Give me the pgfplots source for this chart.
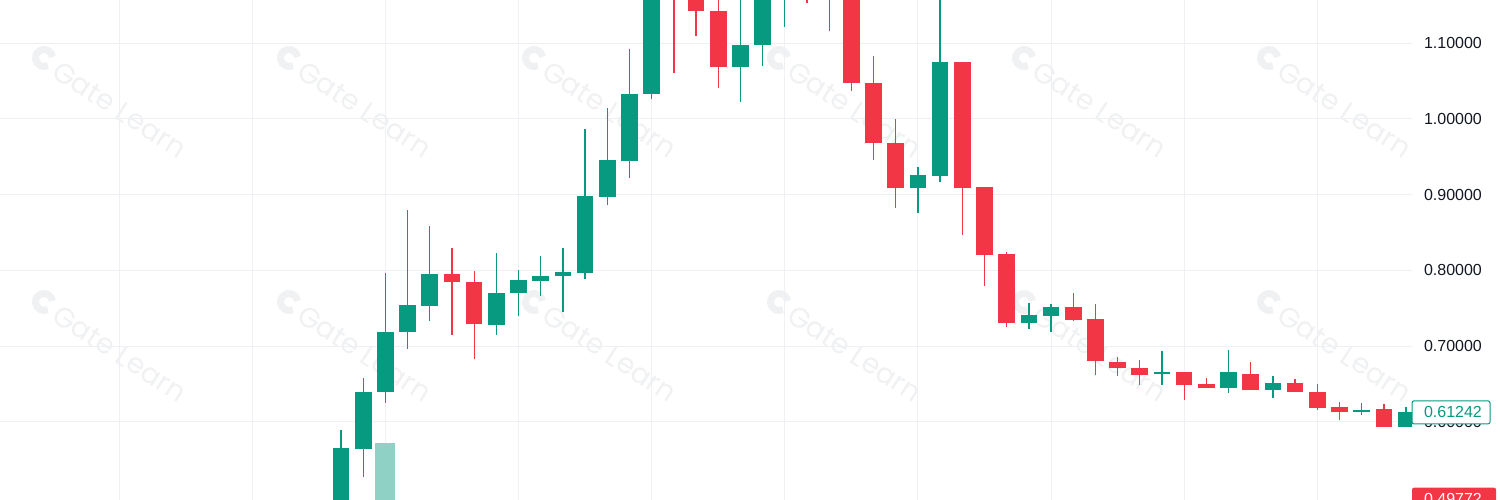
\documentclass[border=0pt]{standalone}
\usepackage{pgfplots}
\pgfplotsset{compat=1.18}
\usepackage{pgfplotstable}
\usepackage{fontspec}
\setmainfont{Liberation Sans}
\newfontfamily\wmfont{Poppins}
\definecolor{upc}{HTML}{089981}
\definecolor{dnc}{HTML}{F23645}
\definecolor{gridc}{HTML}{EEF0F3}
\definecolor{txt}{HTML}{131722}
\definecolor{wm}{HTML}{F0F1F3}

% rising candles
\pgfplotstableread{
i  open   high   low    close
1  0.470  0.589  0.440  0.566
2  0.564  0.658  0.527  0.639
3  0.639  0.797  0.625  0.719
4  0.719  0.880  0.696  0.754
5  0.753  0.859  0.733  0.795
8  0.728  0.823  0.715  0.770
9  0.770  0.801  0.740  0.787
10 0.786  0.819  0.766  0.793
11 0.793  0.829  0.745  0.798
12 0.797  0.987  0.789  0.898
13 0.897  1.015  0.886  0.946
14 0.945  1.092  0.922  1.033
15 1.033  1.230  1.026  1.190
19 1.069  1.170  1.022  1.098
20 1.098  1.200  1.070  1.170
21 1.170  1.220  1.122  1.190
23 1.180  1.240  1.116  1.210
27 0.909  0.937  0.876  0.926
28 0.925  1.170  0.917  1.075
32 0.730  0.757  0.722  0.741
33 0.740  0.756  0.718  0.751
38 0.663  0.694  0.649  0.666
41 0.645  0.695  0.638  0.666
43 0.642  0.660  0.632  0.651
47 0.613  0.625  0.609  0.616
49 0.593  0.620  0.593  0.61242
}\upcandles

% falling candles
\pgfplotstableread{
i  open   high   low    close
6  0.795  0.829  0.715  0.785
7  0.785  0.799  0.683  0.729
16 1.220  1.250  1.061  1.170
17 1.190  1.210  1.110  1.143
18 1.143  1.170  1.041  1.069
22 1.210  1.230  1.153  1.180
24 1.210  1.230  1.037  1.047
25 1.048  1.083  0.946  0.968
26 0.968  1.000  0.883  0.909
29 1.075  1.075  0.847  0.909
30 0.910  0.910  0.779  0.820
31 0.821  0.824  0.725  0.730
34 0.751  0.770  0.733  0.735
35 0.736  0.756  0.662  0.680
36 0.679  0.685  0.660  0.671
37 0.671  0.682  0.649  0.662
39 0.666  0.666  0.629  0.649
40 0.650  0.658  0.645  0.645
42 0.663  0.679  0.642  0.642
44 0.651  0.656  0.639  0.639
45 0.639  0.650  0.616  0.618
46 0.620  0.626  0.602  0.613
48 0.617  0.623  0.593  0.593
}\downcandles

\pgfplotsset{candle/.style={draw=none, mark=none, error bars/.cd, y dir=plus, y explicit, error mark=none}}

\begin{document}
\begin{tikzpicture}[x=1pt,y=1pt]
\useasboundingbox (0,0) rectangle (1500,500);

% faint watermarks
\foreach \cx in {44,289,534,779,1024,1269}{
  \foreach \cy in {58,302}{
    \begin{scope}[shift={(\cx,500-\cy)}, rotate=-33]
      \draw[wm, line width=7pt] (40:8.5) arc[start angle=40, end angle=330, radius=8.5];
      \node[text=wm, anchor=west, inner sep=0pt, transform shape,
        font=\wmfont\fontsize{28}{28}\selectfont] at (15,-2) {Gate Learn};
    \end{scope}
  }
}

\begin{axis}[
  at={(0,0)}, anchor=south west,
  scale only axis, width=1412pt, height=500pt,
  xmin=-14.37, xmax=49.27,
  ymin=0.4967, ymax=1.1572,
  axis line style={draw=none},
  major tick length=0pt,
  xtick={-9,-3,...,45}, xticklabel=\empty,
  ytick={0.6,0.7,0.8,0.9,1.0,1.1},
  yticklabels={0.60000,0.70000,0.80000,0.90000,1.00000,1.10000},
  yticklabel pos=right,
  yticklabel style={anchor=east, inner sep=0pt, xshift=70pt, text=txt,
    font=\fontsize{16}{16}\selectfont},
  grid=major,
  grid style={gridc, line width=1pt},
]
% pale bar under candle 3
\addplot[candle, error bar style={draw=upc!45, line width=20pt}]
  coordinates {(3,0.45) += (0,0.122)};

% wicks
\addplot[candle, error bar style={draw=upc, line width=1.3pt}]
  table[x=i, y=low, y error plus expr=\thisrow{high}-\thisrow{low}] {\upcandles};
\addplot[candle, error bar style={draw=dnc, line width=1.3pt}]
  table[x=i, y=low, y error plus expr=\thisrow{high}-\thisrow{low}] {\downcandles};

% bodies
\addplot[candle, error bar style={draw=upc, line width=16.6pt}]
  table[x=i, y=open, y error plus expr=\thisrow{close}-\thisrow{open}] {\upcandles};
\addplot[candle, error bar style={draw=dnc, line width=16.6pt}]
  table[x=i, y=close, y error plus expr=\thisrow{open}-\thisrow{close}] {\downcandles};

\coordinate (pg) at (axis cs:49.27,0.61242);
\coordinate (pr) at (axis cs:49.27,0.49772);
\end{axis}

% price labels
\draw[upc, fill=white, line width=1pt, rounded corners=2pt]
  ([yshift=-11.5pt]pg) rectangle ([xshift=78pt,yshift=11.5pt]pg);
\node[anchor=east, inner sep=0pt, text=upc, font=\fontsize{16}{16}\selectfont]
  at ([xshift=70pt]pg) {0.61242};
\fill[dnc, rounded corners=2pt]
  ([yshift=-11.5pt]pr) rectangle ([xshift=84pt,yshift=11.5pt]pr);
\node[anchor=east, inner sep=0pt, text=white, font=\fontsize{16}{16}\selectfont]
  at ([xshift=70pt]pr) {0.49772};
\end{tikzpicture}
\end{document}
